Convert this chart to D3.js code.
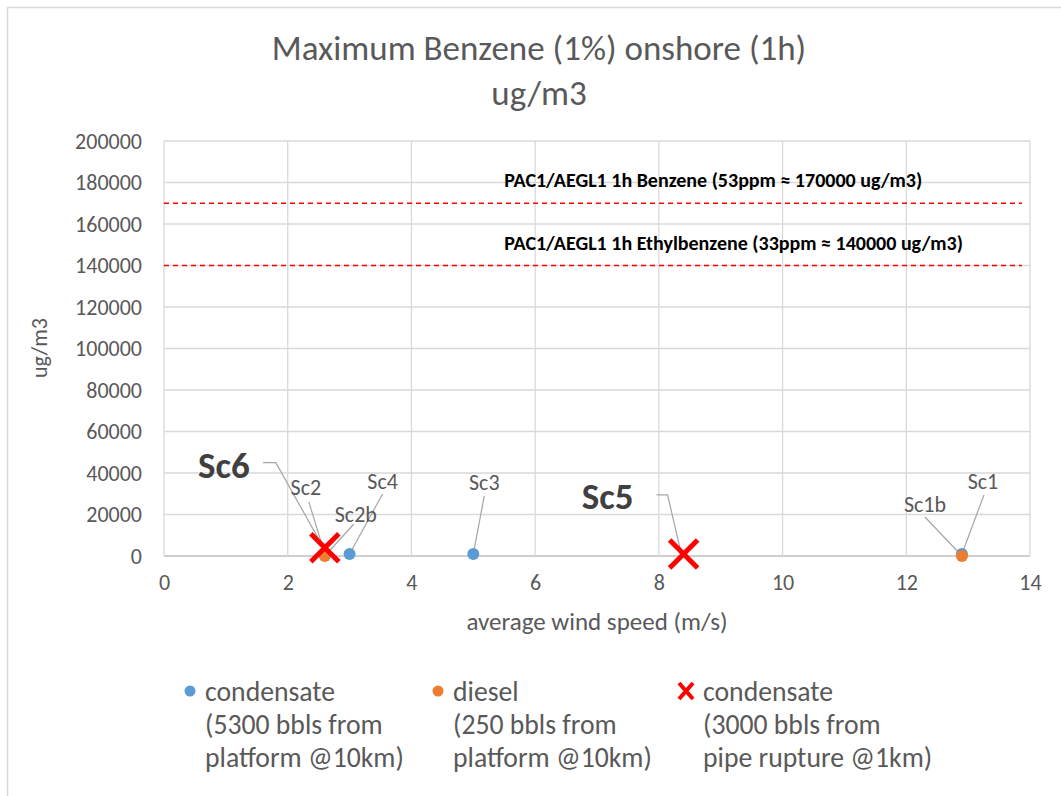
<!DOCTYPE html>
<html><head><meta charset="utf-8">
<script src="https://cdn.jsdelivr.net/npm/d3@7"></script>
<style>
body{margin:0;background:#fff;}
svg text{font-family:Carlito,Calibri,Lato,sans-serif;}
</style></head>
<body><svg id="c" width="1061" height="796"></svg>
<script>
// ---- data ----
const condensatePlatform = [ // blue: 5300 bbls from platform @10km
  {name:"Sc2", x:2.6, y:1000},
  {name:"Sc4", x:3.0, y:1000},
  {name:"Sc3", x:5.0, y:1000},
  {name:"Sc1", x:12.9, y:1000}
];
const dieselPlatform = [ // orange: 250 bbls from platform @10km
  {name:"Sc2b", x:2.6, y:0},
  {name:"Sc1b", x:12.9, y:0}
];
const condensatePipe = [ // red X: 3000 bbls pipe rupture @1km
  {name:"Sc6", x:2.6, y:4000},
  {name:"Sc5", x:8.4, y:1000}
];
const thresholds = [
  {label:"PAC1/AEGL1 1h Benzene (53ppm \u2248 170000 ug/m3)", y:170000},
  {label:"PAC1/AEGL1 1h Ethylbenzene (33ppm \u2248 140000 ug/m3)", y:140000}
];
const xTicks = [0,2,4,6,8,10,12,14];
const yTicks = [0,20000,40000,60000,80000,100000,120000,140000,160000,180000,200000];
const legendItems = [
  {lines:["condensate","(5300 bbls from","platform @10km)"], type:"blue"},
  {lines:["diesel","(250 bbls from","platform @10km)"], type:"orange"},
  {lines:["condensate","(3000 bbls from","pipe rupture @1km)"], type:"x"}
];
// label layout (pixel offsets from point: label centre, leader start, optional elbow)
const labelLayout = {
  "Sc2": {dx:-19, dy:-66, lx:-16, ly:-52, big:false},
  "Sc2b":{dx:31, dy:-42, lx:29, ly:-32, big:false},
  "Sc4": {dx:33, dy:-72, lx:33, ly:-60, big:false},
  "Sc3": {dx:11, dy:-71, lx:11, ly:-58, big:false},
  "Sc1": {dx:21, dy:-72, lx:22, ly:-59, big:false},
  "Sc1b":{dx:-37, dy:-52, lx:-37, ly:-39, big:false},
  "Sc6": {dx:-101, dy:-82, lx:-62, ly:-85, ex:-49, big:true},
  "Sc5": {dx:-76, dy:-57, lx:-27, ly:-59, ex:-16, big:true}
};

// ---- chart ----
const svg = d3.select("#c");
const m = {l:164, r:1030, t:141, b:556};
const x = d3.scaleLinear().domain([0,14]).range([m.l,m.r]);
const y = d3.scaleLinear().domain([0,200000]).range([m.b,m.t]);
const grey = "#595959";
const FF = "Carlito,Calibri,Lato,sans-serif";

// outer chart border
svg.append("rect").attr("x",7.5).attr("y",7.5).attr("width",1070).attr("height",800)
  .attr("fill","#fff").attr("stroke","#d9d9d9").attr("stroke-width",1.5);

// title
svg.append("text").attr("x",539).attr("y",60).attr("text-anchor","middle")
  .attr("font-size",35).attr("fill",grey).text("Maximum Benzene (1%) onshore (1h)");
svg.append("text").attr("x",539).attr("y",105).attr("text-anchor","middle")
  .attr("font-size",35).attr("fill",grey).text("ug/m3");

// gridlines
svg.append("g").selectAll("line").data(yTicks).join("line")
  .attr("x1",m.l).attr("x2",m.r).attr("y1",d=>y(d)).attr("y2",d=>y(d))
  .attr("stroke",d=>d===0?"#bfbfbf":"#d9d9d9").attr("stroke-width",1.3);
svg.append("g").selectAll("line").data(xTicks).join("line")
  .attr("y1",m.t).attr("y2",m.b).attr("x1",d=>x(d)).attr("x2",d=>x(d))
  .attr("stroke","#d9d9d9").attr("stroke-width",1.3);

// axes via d3 axis
const xAxis = svg.append("g").attr("transform",`translate(0,${m.b})`)
  .call(d3.axisBottom(x).tickValues(xTicks).tickSize(0).tickPadding(18).tickFormat(d3.format("d")));
xAxis.select(".domain").remove();
xAxis.selectAll("text").attr("font-size",22).attr("fill",grey).attr("font-family",FF);
const yAxis = svg.append("g").attr("transform",`translate(${m.l},0)`)
  .call(d3.axisLeft(y).tickValues(yTicks).tickSize(0).tickPadding(22).tickFormat(d3.format("d")));
yAxis.select(".domain").remove();
yAxis.selectAll("text").attr("font-size",22).attr("fill",grey).attr("font-family",FF);

// axis titles
svg.append("text").attr("x",(m.l+m.r)/2).attr("y",630).attr("text-anchor","middle")
  .attr("font-size",25).attr("fill",grey).text("average wind speed (m/s)");
svg.append("text").attr("transform","translate(47,348) rotate(-90)").attr("text-anchor","middle")
  .attr("font-size",22).attr("fill",grey).text("ug/m3");

// thresholds
svg.append("g").selectAll("line").data(thresholds).join("line")
  .attr("x1",x(0)).attr("x2",x(13.87)).attr("y1",d=>y(d.y)).attr("y2",d=>y(d.y))
  .attr("stroke","#ff0000").attr("stroke-width",1.7).attr("stroke-dasharray","5,4");
svg.append("g").selectAll("text").data(thresholds).join("text")
  .attr("x",x(5.5)).attr("y",d=>y(d.y)-16).attr("font-size",20).attr("font-weight","bold")
  .attr("fill","#000").text(d=>d.label);

// leaders
const allPts = [...condensatePlatform,...dieselPlatform,...condensatePipe];
const lg = svg.append("g");
allPts.forEach(p=>{
  const L = labelLayout[p.name]; const px=x(p.x), py=y(p.y);
  const pts = L.ex!==undefined
    ? [[px+L.lx,py+L.ly],[px+L.ex,py+L.ly],[px-3,py-3]]
    : [[px+L.lx,py+L.ly],[px,py]];
  lg.append("path").attr("d",d3.line()(pts))
    .attr("fill","none").attr("stroke","#a6a6a6").attr("stroke-width",1.2);
});

// marks
svg.append("g").selectAll("circle").data(condensatePlatform).join("circle")
  .attr("cx",d=>x(d.x)).attr("cy",d=>y(d.y)).attr("r",6).attr("fill","#5b9bd5");
svg.append("g").selectAll("circle").data(dieselPlatform).join("circle")
  .attr("cx",d=>x(d.x)).attr("cy",d=>y(d.y)).attr("r",6).attr("fill","#ed7d31");
const xs = 14;
svg.append("g").selectAll("path").data(condensatePipe).join("path")
  .attr("d",d=>{const cx=x(d.x), cy=y(d.y);
    return `M${cx-xs},${cy-xs}L${cx+xs},${cy+xs}M${cx-xs},${cy+xs}L${cx+xs},${cy-xs}`;})
  .attr("stroke","#ff0000").attr("stroke-width",5).attr("fill","none");

// labels
svg.append("g").selectAll("text").data(allPts).join("text")
  .attr("x",d=>x(d.x)+labelLayout[d.name].dx)
  .attr("y",d=>y(d.y)+labelLayout[d.name].dy)
  .attr("text-anchor","middle").attr("dominant-baseline","central")
  .attr("font-size",d=>labelLayout[d.name].big?37:22)
  .attr("font-weight",d=>labelLayout[d.name].big?"bold":"normal")
  .attr("fill",d=>labelLayout[d.name].big?"#404040":grey)
  .text(d=>d.name);

// legend
const lx0 = [190,438,686];
const leg = svg.append("g");
legendItems.forEach((it,i)=>{
  const g = leg.append("g");
  const cx = lx0[i], cy = 691;
  if(it.type==="x"){
    g.append("path").attr("d",`M${cx-7},${cy-8}L${cx+7},${cy+8}M${cx-7},${cy+8}L${cx+7},${cy-8}`)
      .attr("stroke","#ff0000").attr("stroke-width",4);
  } else {
    g.append("circle").attr("cx",cx).attr("cy",cy).attr("r",5.5)
      .attr("fill",it.type==="blue"?"#5b9bd5":"#ed7d31");
  }
  it.lines.forEach((t,j)=>{
    g.append("text").attr("x",cx+(it.type==="x"?17:15)).attr("y",cy+j*33)
      .attr("dominant-baseline","central").attr("font-size",27.7).attr("fill",grey).text(t);
  });
});
</script></body></html>
